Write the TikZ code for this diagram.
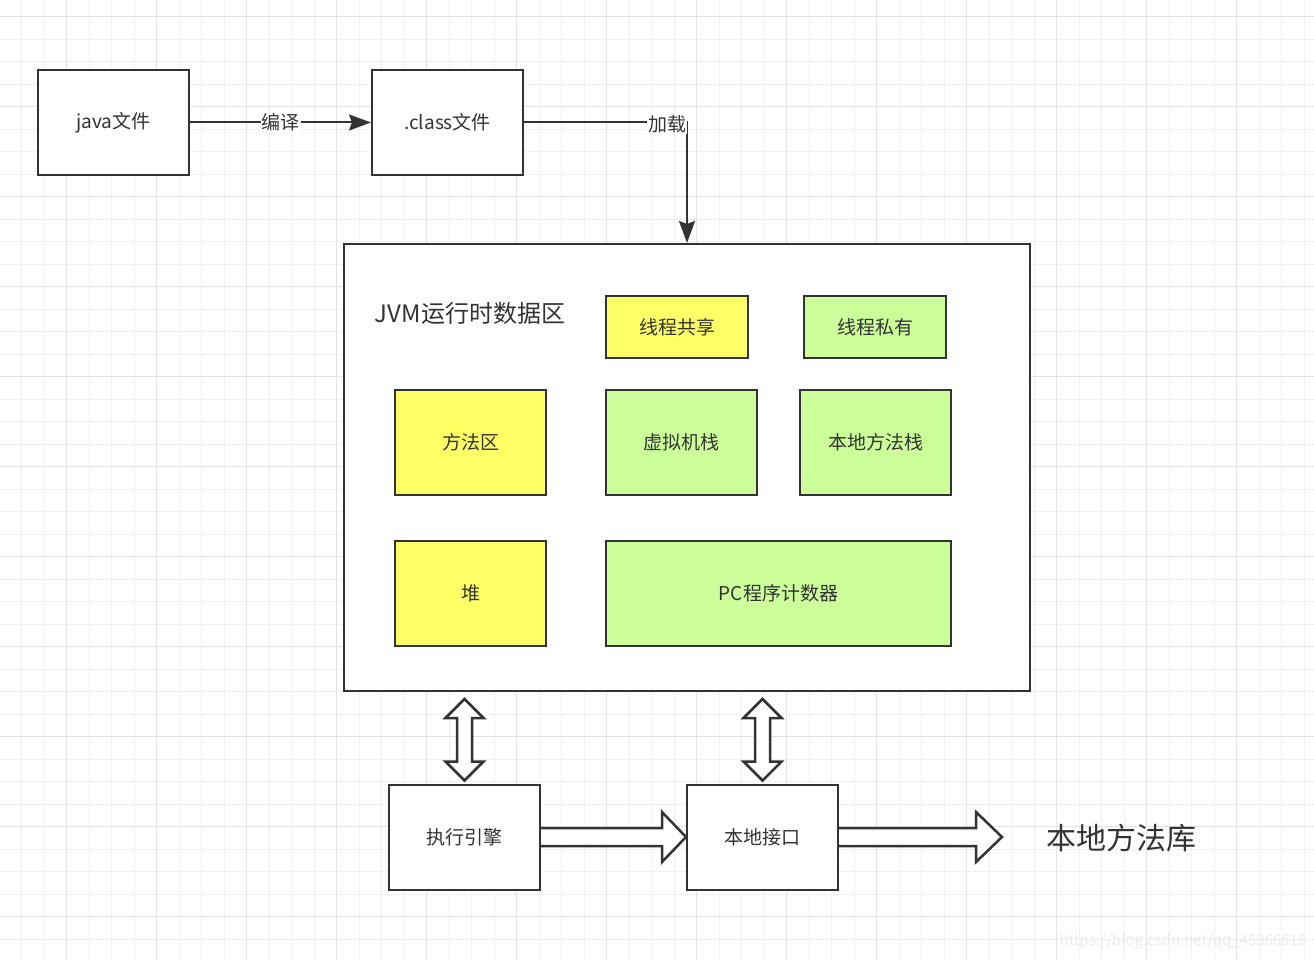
\documentclass[tikz,border=0pt]{standalone}
\usepackage{fontspec}
\setmainfont{Noto Sans CJK SC}
\usetikzlibrary{arrows.meta,calc}

\definecolor{linec}{HTML}{333333}
\definecolor{yellowc}{HTML}{FFFF66}
\definecolor{greenc}{HTML}{CCFF99}

\begin{document}
\begin{tikzpicture}[
    x=1pt, y=-1pt,
    gridminor/.style={gray!12, line width=1pt},
    gridmajor/.style={gray!22, line width=1pt},
    box/.style={draw=linec, line width=2pt, fill=white, text=linec, inner sep=0pt,
                minimum width=151pt, minimum height=105pt, font={\fontsize{19}{23}\selectfont}},
    shared/.style={box, fill=yellowc},
    private/.style={box, fill=greenc},
    legend/.style={box, minimum width=142pt, minimum height=62pt},
    flow/.style={draw=linec, line width=2pt, -{Stealth[length=22pt,width=16pt,inset=3pt]}},
    hollow/.style={draw=linec, line width=2.5pt, fill=white, line join=miter},
    tag/.style={fill=white, text=linec, inner sep=1pt, font={\fontsize{19}{23}\selectfont}}]

    % background and grid
    \useasboundingbox (0,0) rectangle (1314,960);
    \fill[white] (0,0) rectangle (1314,960);
    \foreach \x in {-0.8,21.7,...,1314} \draw[gridminor] (\x,0) -- (\x,960);
    \foreach \y in {16.7,39.2,...,960} \draw[gridminor] (0,\y) -- (1314,\y);
    \foreach \x in {66.7,156.7,...,1314} \draw[gridmajor] (\x,0) -- (\x,960);
    \foreach \y in {16.7,106.7,...,960} \draw[gridmajor] (0,\y) -- (1314,\y);

    % source files
    \node[box] (java)  at (113.5,122.5) {java文件};
    \node[box] (class) at (447.5,122.5) {.class文件};

    % runtime data area
    \node[box, minimum width=686pt, minimum height=447pt] (jvm) at (687,467.5) {};
    \node[text=linec, font={\fontsize{24}{28}\selectfont}] (jvmtitle) at (470,313) {JVM运行时数据区};

    \node[legend, fill=yellowc] (share) at (677,327) {线程共享};
    \node[legend, fill=greenc]  (own)   at (875,327) {线程私有};

    \node[shared]  (method) at (470.5,442)  {方法区};
    \node[private] (vmstack) at (681.5,442) {虚拟机栈};
    \node[private] (nstack) at (875.5,442)  {本地方法栈};
    \node[shared]  (heap)   at (470.5,593)  {堆};
    \node[private, minimum width=345pt] (pc) at (778.5,593) {PC程序计数器};

    % engine and native interface
    \node[box] (engine) at (464.5,837) {执行引擎};
    \node[box] (native) at (762.5,837) {本地接口};
    \node[text=linec, font={\fontsize{30}{34}\selectfont}] (lib) at (1121,838) {本地方法库};

    % connectors
    \draw[flow] (java.east) -- node[tag] {编译} (class.west);
    \draw[flow] (class.east) -| node[tag, pos=0.44, yshift=-2pt] {加载} (jvm.north);

    % hollow double arrows
    \coordinate (ea) at ($(engine.north |- jvm.south)+(0,7)$);
    \coordinate (eb) at ($(engine.north)+(0,-3)$);
    \coordinate (na) at ($(native.north |- jvm.south)+(0,7)$);
    \coordinate (nb) at ($(native.north)+(0,-3)$);
    \foreach \a/\b in {ea/eb,na/nb}
        \draw[hollow] (\a) -- ++(19,19) -- ++(-11.5,0) |- ($(\b)+(7.5,-19)$)
            -- ++(11.5,0) -- (\b) -- ++(-19,-19) -- ++(11.5,0)
            |- ($(\a)+(-7.5,19)$) -- ++(-11.5,0) -- cycle;

    % hollow single arrows
    \draw[hollow] ($(engine.east)+(0,-9)$) -- ($(native.west)+(-24,-9)$) -- ++(0,-16)
        -- (native.west) -- ($(native.west)+(-24,25)$) -- ++(0,-16)
        -- ($(engine.east)+(0,9)$);
    \coordinate (tip) at (1002,837);
    \draw[hollow] ($(native.east)+(0,-9)$) -- ($(tip)+(-26,-9)$) -- ++(0,-16)
        -- (tip) -- ($(tip)+(-26,25)$) -- ++(0,-16)
        -- ($(native.east)+(0,9)$);

    \node[text=gray!15, font={\fontsize{15}{18}\selectfont}] (mark) at (1183,941) {https://blog.csdn.net/qq\_45366515};

\end{tikzpicture}
\end{document}
